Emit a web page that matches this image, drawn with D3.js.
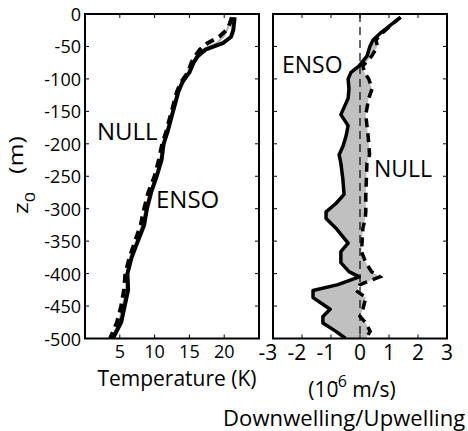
<!DOCTYPE html>
<html>
<head>
<meta charset="utf-8">
<script src="https://cdn.jsdelivr.net/npm/d3@7"></script>
<style>
  body { margin: 0; background: #fff; }
  text { font-family: "Open Sans", sans-serif; fill: #000; }
</style>
</head>
<body>
<div id="chart"></div>
<script>
// depth levels (m) for the temperature profiles
var tDepth = [-5, -15, -25, -35, -45, -55, -65, -75, -90, -105, -120, -140, -160, -180,
              -200, -225, -250, -275, -300, -325, -350, -375, -400, -425, -450, -475, -500];
// NULL run (solid), ENSO run (dashed), grey reference
var tempNull = [21.5, 21.4, 21.3, 21.0, 19.8, 17.3, 16.2, 15.6, 15.0, 14.0, 13.4, 12.9, 12.4, 11.9,
                11.3, 11.0, 10.3, 9.5, 8.9, 8.5, 7.6, 6.7, 6.1, 6.2, 5.7, 5.2, 4.0];
var tempEnso = [21.1, 20.8, 20.3, 19.3, 17.6, 16.5, 15.8, 15.3, 14.8, 13.8, 13.2, 12.7, 12.2, 11.7,
                11.1, 10.6, 10.0, 9.1, 8.5, 8.0, 7.2, 6.4, 5.8, 5.6, 5.2, 4.6, 3.6];
var tempGrey = [21.0, 20.7, 20.4, 19.9, 18.9, 16.9, 16.0, 15.5, 14.9, 13.9, 13.3, 12.8, 12.3, 11.8,
                11.2, 10.8, 10.2, 9.3, 8.7, 8.2, 7.4, 6.5, 6.0, 5.9, 5.4, 4.9, 3.8];

// depth levels (m) for vertical velocity
var wDepth = [-5, -15, -30, -40, -50, -65, -80, -90, -100, -115, -130, -155, -172, -188, -204, -217,
              -230, -255, -278, -292, -305, -315, -330, -353, -366, -383, -397, -405, -417, -426,
              -437, -455, -466, -476, -489, -500];
var wEnso = [1.4, 1.12, 0.69, 0.45, 0.34, 0.24, -0.03, -0.31, -0.41, -0.38, -0.41, -0.66, -0.41, -0.48,
             -0.59, -0.72, -0.66, -0.59, -0.55, -0.83, -1.17, -1.17, -0.83, -0.41, -0.66, -0.66, -0.38,
             -0.03, -0.76, -1.62, -1.62, -1.03, -1.28, -1.28, -0.83, -0.5];
var wNull = [1.4, 1.12, 0.75, 0.55, 0.6, 0.4, 0.1, 0.15, 0.3, 0.42, 0.3, 0.2, 0.24, 0.28,
             0.31, 0.33, 0.24, 0.22, 0.2, 0.2, 0.2, 0.18, 0.1, 0.07, 0.05, 0.2, 0.4,
             0.68, 0.0, -0.14, 0.2, 0.1, 0.0, 0.2, 0.35, 0.2];

var depthTicks = [0, -50, -100, -150, -200, -250, -300, -350, -400, -450, -500];
var tempTicks = [5, 10, 15, 20];
var wTicks = [-3, -2, -1, 0, 1, 2, 3];

var width = 468, height = 431;
var svg = d3.select("#chart").append("svg")
    .attr("width", width)
    .attr("height", height);

var plotTop = 14, plotBottom = 338.5;
var y = d3.scaleLinear().domain([0, -500]).range([plotTop, plotBottom]);
var xT = d3.scaleLinear().domain([0, 25]).range([85, 259]);
var xW = d3.scaleLinear().domain([-3, 3]).range([273, 447]);

var defs = svg.append("defs");
function clip(id, x) {
    defs.append("clipPath").attr("id", id).append("rect")
        .attr("x", x.range()[0]).attr("y", plotTop)
        .attr("width", x.range()[1] - x.range()[0]).attr("height", plotBottom - plotTop);
}
clip("clipT", xT);
clip("clipW", xW);

// left panel: temperature
var gT = svg.append("g").attr("clip-path", "url(#clipT)");
function tLine(vals) {
    return d3.line()
        .x(function (d, i) { return xT(vals[i]); })
        .y(function (d) { return y(d); })(tDepth);
}
gT.append("path").attr("d", tLine(tempGrey))
    .attr("fill", "none").attr("stroke", "#b0b0b0").attr("stroke-width", 2);
gT.append("path").attr("d", tLine(tempNull))
    .attr("fill", "none").attr("stroke", "#000").attr("stroke-width", 4)
    .attr("stroke-linejoin", "round");
gT.append("path").attr("d", tLine(tempEnso))
    .attr("fill", "none").attr("stroke", "#000").attr("stroke-width", 4)
    .attr("stroke-dasharray", "9,6");

// right panel: vertical velocity
var gW = svg.append("g").attr("clip-path", "url(#clipW)");
var area = d3.area()
    .y(function (d) { return y(d); })
    .x0(function (d, i) { return xW(wEnso[i]); })
    .x1(function (d, i) { return xW(wNull[i]); });
gW.append("path").attr("d", area(wDepth)).attr("fill", "#c0c0c0");
gW.append("line")
    .attr("x1", xW(0)).attr("x2", xW(0)).attr("y1", plotTop).attr("y2", plotBottom)
    .attr("stroke", "#000").attr("stroke-width", 1.2).attr("stroke-dasharray", "8,5");
function wLine(vals) {
    return d3.line()
        .x(function (d, i) { return xW(vals[i]); })
        .y(function (d) { return y(d); })(wDepth);
}
gW.append("path").attr("d", wLine(wNull))
    .attr("fill", "none").attr("stroke", "#000").attr("stroke-width", 3.5)
    .attr("stroke-dasharray", "9,6");
gW.append("path").attr("d", wLine(wEnso))
    .attr("fill", "none").attr("stroke", "#000").attr("stroke-width", 3.5)
    .attr("stroke-linejoin", "round");

// frames and inward ticks on all sides
function frame(x, ticks) {
    var g = svg.append("g");
    var x0 = x.range()[0], x1 = x.range()[1];
    ticks.forEach(function (t) {
        g.append("line").attr("x1", x(t)).attr("x2", x(t)).attr("y1", plotBottom).attr("y2", plotBottom - 4)
            .attr("stroke", "#000");
        g.append("line").attr("x1", x(t)).attr("x2", x(t)).attr("y1", plotTop).attr("y2", plotTop + 4)
            .attr("stroke", "#000");
    });
    depthTicks.forEach(function (t) {
        g.append("line").attr("x1", x0).attr("x2", x0 + 4).attr("y1", y(t)).attr("y2", y(t))
            .attr("stroke", "#000");
        g.append("line").attr("x1", x1).attr("x2", x1 - 4).attr("y1", y(t)).attr("y2", y(t))
            .attr("stroke", "#000");
    });
    g.append("rect").attr("x", x0).attr("y", plotTop).attr("width", x1 - x0).attr("height", plotBottom - plotTop)
        .attr("fill", "none").attr("stroke", "#000").attr("stroke-width", 2);
}
frame(xT, tempTicks);
frame(xW, wTicks);

// tick labels
svg.append("g").selectAll("text").data(depthTicks).enter().append("text")
    .attr("x", 81).attr("y", function (d) { return y(d) + 7; })
    .attr("text-anchor", "end").style("font-size", "18px")
    .text(function (d) { return d === 0 ? "0" : "-" + Math.abs(d); });
svg.append("g").selectAll("text").data(tempTicks).enter().append("text")
    .attr("x", function (d) { return xT(d); }).attr("y", 358)
    .attr("text-anchor", "middle").style("font-size", "18px")
    .text(function (d) { return d; });
svg.append("g").selectAll("text").data(wTicks).enter().append("text")
    .attr("x", function (d) { return xW(d) - (d < 0 ? 5 : 0); }).attr("y", 360)
    .attr("text-anchor", "middle").style("font-size", "21px")
    .text(function (d) { return d < 0 ? "-" + Math.abs(d) : d; });

// axis titles
svg.append("text").attr("x", 177).attr("y", 386).attr("text-anchor", "middle")
    .style("font-size", "21px").text("Temperature (K)");
var unit = svg.append("text").attr("x", 352).attr("y", 397).attr("text-anchor", "middle")
    .style("font-size", "21px");
unit.append("tspan").text("(10");
unit.append("tspan").attr("dy", -10).attr("dx", -6).style("font-size", "16px").text("-6");
unit.append("tspan").attr("dy", 10).text(" m/s)");
svg.append("text").attr("x", 223).attr("y", 426)
    .style("font-size", "22px").style("letter-spacing", "0.1px").text("Downwelling/Upwelling");

// y axis title: z0 (m), read bottom to top
var yz = svg.append("text").attr("transform", "translate(28,214) rotate(-90) scale(1,0.8)")
    .style("font-size", "25px");
yz.append("tspan").text("z");
yz.append("tspan").attr("dy", 9).style("font-size", "18px").text("0");
svg.append("text").attr("transform", "translate(23,155) rotate(-90) scale(1,0.8)")
    .attr("text-anchor", "middle").style("font-size", "25px").text("(m)");

// curve labels
svg.append("text").attr("x", 97).attr("y", 140).style("font-size", "24px").text("NULL");
svg.append("text").attr("x", 156).attr("y", 208).style("font-size", "24px").text("ENSO");
svg.append("text").attr("x", 282).attr("y", 73).style("font-size", "23px").text("ENSO");
svg.append("text").attr("x", 374).attr("y", 177).style("font-size", "23px").text("NULL");
</script>
</body>
</html>
